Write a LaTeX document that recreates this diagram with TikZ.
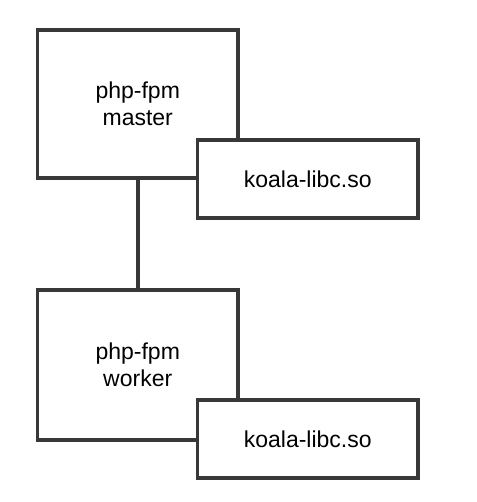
\documentclass[tikz,border=0pt]{standalone}
\usepackage{fontspec}
\setmainfont{Liberation Sans}
\begin{document}
\begin{tikzpicture}[x=1pt,y=-1pt,
  boxstyle/.style={draw=black!78, line width=3.5pt, fill=white, inner sep=0pt,
    align=center, font=\fontsize{23}{27}\selectfont},
  linkstyle/.style={draw=black!78, line width=3.5pt}]
\useasboundingbox (0,0) rectangle (476,502);
\node[boxstyle, minimum width=200.5pt, minimum height=148pt] (master) at (137.75,104) {php-fpm\\master};
\node[boxstyle, minimum width=220.5pt, minimum height=78pt] (lib1) at (307.75,179) {koala-libc.so};
\node[boxstyle, minimum width=200.5pt, minimum height=150pt] (worker) at (137.75,365) {php-fpm\\worker};
\node[boxstyle, minimum width=220.5pt, minimum height=78pt] (lib2) at (307.75,439) {koala-libc.so};
\draw[linkstyle] (master.south) -- (worker.north);
\end{tikzpicture}
\end{document}
